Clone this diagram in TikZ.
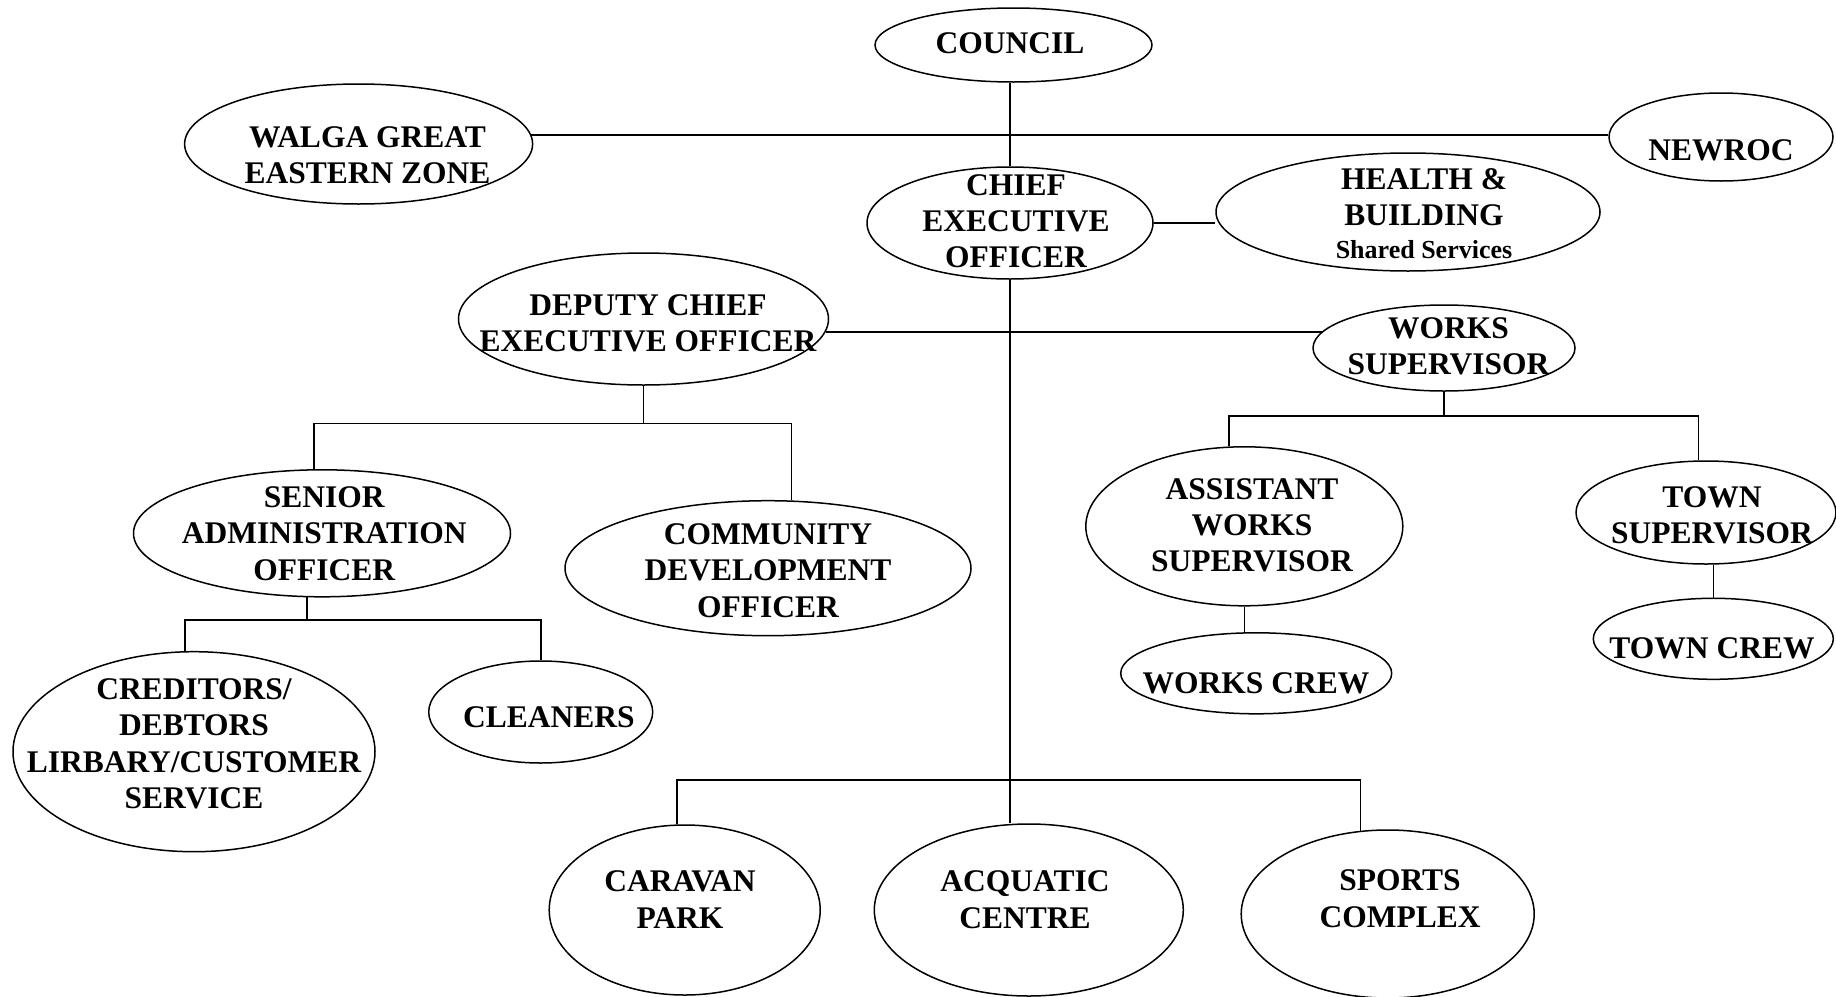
\documentclass[tikz,border=0pt]{standalone}
\usepackage{fontspec}
\setmainfont{Liberation Serif}
\usetikzlibrary{shapes.geometric}
\tikzset{
  oval/.style={draw, ellipse, line width=1.5pt, inner sep=0pt},
  lbl/.style={anchor=north, inner sep=0pt, align=center, font=\bfseries\fontsize{31.5}{36.4}\selectfont},
  wire/.style={line width=1.6pt}
}
\begin{document}
\begin{tikzpicture}[x=1pt,y=-1pt]
\useasboundingbox (0,0) rectangle (1836,996);
% ellipses
\node[oval, minimum width=277, minimum height=74] (council) at (1013.5,45) {};
\node[oval, minimum width=348, minimum height=120] (walga) at (358.6,144) {};
\node[oval, minimum width=224, minimum height=88] (newroc) at (1721,137) {};
\node[oval, minimum width=286, minimum height=112] (ceo) at (1010,223) {};
\node[oval, minimum width=384, minimum height=118] (health) at (1408,212) {};
\node[oval, minimum width=370, minimum height=132] (deputy) at (643.5,319) {};
\node[oval, minimum width=262, minimum height=86] (ws) at (1444,348) {};
\node[oval, minimum width=377, minimum height=127] (sao) at (322,533.3) {};
\node[oval, minimum width=406, minimum height=135] (cdo) at (768,568.2) {};
\node[oval, minimum width=362, minimum height=200] (cred) at (194,751.7) {};
\node[oval, minimum width=224, minimum height=102] (cleaners) at (540.7,712) {};
\node[oval, minimum width=271, minimum height=170] (caravan) at (684.7,910) {};
\node[oval, minimum width=309, minimum height=172] (acq) at (1028.8,910) {};
\node[oval, minimum width=293, minimum height=168] (sports) at (1387.7,914) {};
\node[oval, minimum width=317, minimum height=159] (aws) at (1244.3,526.3) {};
\node[oval, minimum width=271, minimum height=81] (wc) at (1256.2,673.3) {};
\node[oval, minimum width=260, minimum height=103] (ts) at (1706,512.5) {};
\node[oval, minimum width=240, minimum height=81] (tc) at (1713.3,638.8) {};
% bar coordinates
\coordinate (b1) at (647,423.3);
\coordinate (b2) at (307,620);
\coordinate (b3) at (1010,780);
\coordinate (b4) at (1441,415.7);
% connectors
\draw[wire] (ceo.north) -- (ceo.north |- council.south);
\draw[wire] (walga.3) -- (newroc.west |- walga.3);
\draw[wire] (ceo.east) -- (health.west |- ceo.east);
\draw[wire] (ceo.south) -- (ceo.south |- acq.north);
\draw[wire] (deputy.-4) -- (ws.172 |- deputy.-4);
\draw[wire] (deputy.south) -- (deputy.south |- b1);
\draw[wire] (sao.97) |- (b1) -| (cdo.71.5);
\draw[wire] (sao.257) -- (sao.257 |- b2);
\draw[wire] (cred.95) |- (b2) -| (cleaners.north);
\draw[wire] (caravan.95) |- (b3) -| (sports.108);
\draw[wire] (ws.south) -- (ws.south |- b4);
\draw[wire] (aws.101) |- (b4) -| (ts.98.5);
\draw[wire] (aws.south) -- (aws.south |- wc.north);
\draw[wire] (tc.north) -- (tc.north |- ts.south);
% labels
\node[lbl] (council-t) at (1010,32) {COUNCIL};
\node[lbl] (walga-t) at (367.5,126) {WALGA GREAT\\EASTERN ZONE};
\node[lbl] (newroc-t) at (1721,139) {NEWROC};
\node[lbl] (ceo-t) at (1016,174) {CHIEF\\EXECUTIVE\\OFFICER};
\node[lbl] (health-t) at (1424,168.3) {HEALTH \&\\BUILDING\\[-3.7pt]{\fontsize{26}{30}\selectfont Shared Services}};
\node[lbl] (deputy-t) at (648,294) {DEPUTY CHIEF\\EXECUTIVE OFFICER};
\node[lbl] (ws-t) at (1448.5,317) {WORKS\\SUPERVISOR};
\node[lbl] (sao-t) at (324.3,486.3) {SENIOR\\ADMINISTRATION\\OFFICER};
\node[lbl] (cdo-t) at (768,523.4) {COMMUNITY\\DEVELOPMENT\\OFFICER};
\node[lbl] (cred-t) at (194,678.3) {CREDITORS/\\DEBTORS\\LIRBARY/CUSTOMER\\SERVICE};
\node[lbl] (cleaners-t) at (549,706) {CLEANERS};
\node[lbl] (caravan-t) at (680,870.7) {CARAVAN\\PARK};
\node[lbl] (acq-t) at (1025,870.7) {ACQUATIC\\CENTRE};
\node[lbl] (sports-t) at (1400,869.7) {SPORTS\\COMPLEX};
\node[lbl] (aws-t) at (1252,478) {ASSISTANT\\WORKS\\SUPERVISOR};
\node[lbl] (wc-t) at (1256,672.3) {WORKS CREW};
\node[lbl] (ts-t) at (1712,486.3) {TOWN\\SUPERVISOR};
\node[lbl] (tc-t) at (1712,637.3) {TOWN CREW};
\end{tikzpicture}
\end{document}
